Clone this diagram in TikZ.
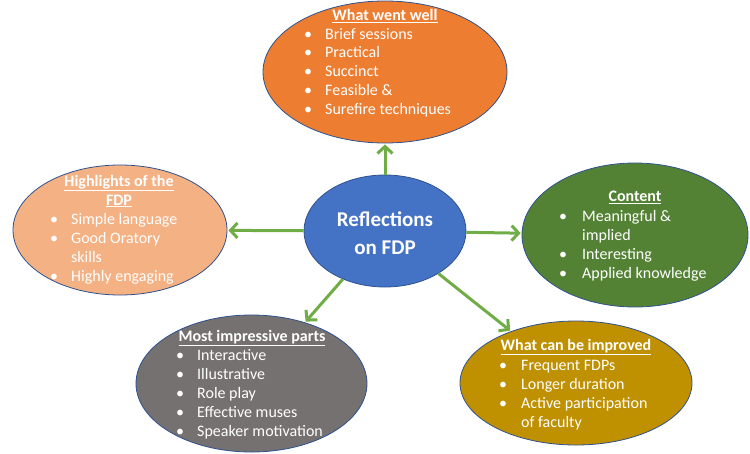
\documentclass[tikz,border=0pt]{standalone}
\usepackage{fontspec}
\setmainfont{Carlito}
\usetikzlibrary{arrows.meta,shapes.geometric}
\definecolor{cOrange}{HTML}{ED7D31}
\definecolor{cPeach}{HTML}{F4B183}
\definecolor{cGreen}{HTML}{548235}
\definecolor{cGray}{HTML}{767171}
\definecolor{cGold}{HTML}{BF9000}
\definecolor{cBlue}{HTML}{4472C4}
\definecolor{cBorder}{HTML}{2F528F}
\definecolor{cArrow}{HTML}{70AD47}
\begin{document}
\begin{tikzpicture}[x=1pt,y=-1pt,
  bub/.style={ellipse, draw=cBorder, line width=0.8pt, inner sep=0pt},
  ttl/.style={anchor=center, inner sep=0pt, text=white, font=\fontsize{16}{19}\selectfont\bfseries, text height=11.5pt, text depth=3pt},
  blt/.style={anchor=center, inner sep=0pt, text=white, font=\fontsize{16}{19}\selectfont, text height=11.5pt, text depth=3pt},
  itm/.style={anchor=west, inner sep=0pt, text=white, font=\fontsize{16}{19}\selectfont, text height=11.5pt, text depth=3pt},
  arr/.style={draw=cArrow, line width=3pt, -{Straight Barb[length=7pt,width=15pt]}, shorten >=1pt}
]
\useasboundingbox (0,0) rectangle (750,453);

% ellipses
\node[bub, fill=cBlue, minimum width=162pt, minimum height=112pt] (c) at (385,231) {};
\node[bub, fill=cOrange, minimum width=244pt, minimum height=142pt] (top) at (385,72) {};
\node[bub, fill=cPeach, minimum width=214pt, minimum height=130pt] (lft) at (120,230) {};
\node[bub, fill=cGreen, minimum width=226pt, minimum height=144pt] (rgt) at (635,235) {};
\node[bub, fill=cGray, minimum width=231pt, minimum height=137pt] (bl) at (251.5,383.5) {};
\node[bub, fill=cGold, minimum width=232pt, minimum height=124pt] (br) at (576,383) {};

% centre text
\node[inner sep=0pt, text=white, align=center, font=\fontsize{21}{28}\selectfont\bfseries] (ctext) at (385,233) {Reflections\\on FDP};

% arrows
\draw[arr] (c) -- (top);
\draw[arr] (c) -- (lft);
\draw[arr] (c) -- (rgt);
\draw[arr] (c) -- (bl);
\draw[arr] (c) -- (br);

% top: What went well
\node[ttl] (t0) at (385,16) {\underline{What went well}};
\node[blt] (tb1) at (308,35) {•}; \node[itm] (ti1) at (325,35) {Brief sessions};
\node[blt] (tb2) at (308,53.5) {•}; \node[itm] (ti2) at (325,53.5) {Practical};
\node[blt] (tb3) at (308,72) {•}; \node[itm] (ti3) at (325,72) {Succinct};
\node[blt] (tb4) at (308,91) {•}; \node[itm] (ti4) at (325,91) {Feasible \&};
\node[blt] (tb5) at (308,110) {•}; \node[itm] (ti5) at (325,110) {Surefire techniques};

% left: Highlights
\node[ttl] (l0) at (119,182) {\underline{Highlights of the}};
\node[ttl] (l0b) at (119,201) {\underline{FDP}};
\node[blt] (lb1) at (54,220) {•}; \node[itm] (li1) at (71,220) {Simple language};
\node[blt] (lb2) at (54,239) {•}; \node[itm] (li2) at (71,239) {Good Oratory};
\node[itm] (li2b) at (71,258) {skills};
\node[blt] (lb3) at (54,277) {•}; \node[itm] (li3) at (71,277) {Highly engaging};

% right: Content
\node[ttl] (r0) at (635,197) {\underline{Content}};
\node[blt] (rb1) at (563,217) {•}; \node[itm] (ri1) at (582,217) {Meaningful \&};
\node[itm] (ri1b) at (582,236) {implied};
\node[blt] (rb2) at (563,255) {•}; \node[itm] (ri2) at (582,255) {Interesting};
\node[blt] (rb3) at (563,274) {•}; \node[itm] (ri3) at (582,274) {Applied knowledge};

% bottom left: Most impressive parts
\node[ttl] (m0) at (252,337) {\underline{Most impressive parts}};
\node[blt] (mb1) at (180,356) {•}; \node[itm] (mi1) at (197,356) {Interactive};
\node[blt] (mb2) at (180,375) {•}; \node[itm] (mi2) at (197,375) {Illustrative};
\node[blt] (mb3) at (180,394) {•}; \node[itm] (mi3) at (197,394) {Role play};
\node[blt] (mb4) at (180,413) {•}; \node[itm] (mi4) at (197,413) {Effective muses};
\node[blt] (mb5) at (180,432) {•}; \node[itm] (mi5) at (197,432) {Speaker motivation};

% bottom right: What can be improved
\node[ttl] (w0) at (576,346) {\underline{What can be improved}};
\node[blt] (wb1) at (503,366) {•}; \node[itm] (wi1) at (521,366) {Frequent FDPs};
\node[blt] (wb2) at (503,385) {•}; \node[itm] (wi2) at (521,385) {Longer duration};
\node[blt] (wb3) at (503,404) {•}; \node[itm] (wi3) at (521,404) {Active participation};
\node[itm] (wi3b) at (521,423) {of faculty};
\end{tikzpicture}
\end{document}
